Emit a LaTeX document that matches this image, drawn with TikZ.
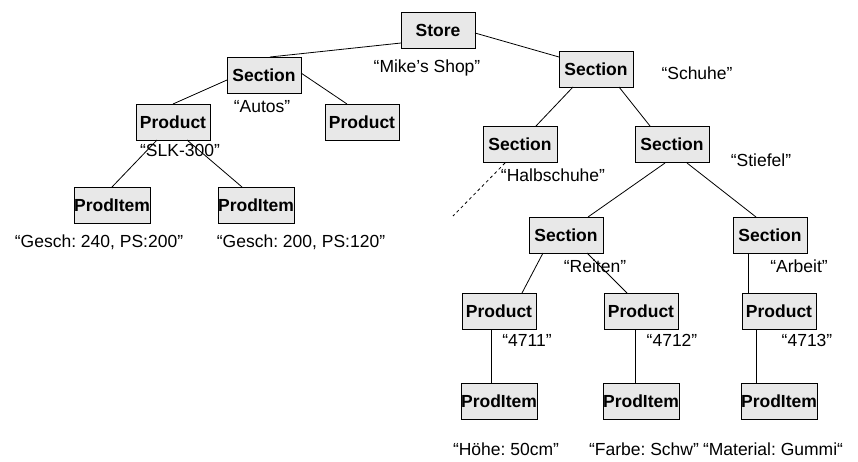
\documentclass[tikz,border=0pt]{standalone}
\usepackage{fontspec}
\setmainfont{Liberation Sans}
\frenchspacing
\begin{document}
\begin{tikzpicture}[x=1pt,y=-1pt,
  box/.style={draw=black, line width=0.8pt, fill=black!9, minimum width=74pt,
    minimum height=36pt, inner sep=0pt, font=\fontsize{17.5}{20}\selectfont\bfseries},
  lbl/.style={inner sep=0pt, font=\fontsize{17.5}{20}\selectfont},
  link/.style={draw=black, line width=0.8pt}]
\useasboundingbox (0,0) rectangle (858,461);

% object nodes
\node[box] (store) at (438,30.5) {Store};
\node[box] (secL)  at (264,75.5) {Section};
\node[box] (secR)  at (596,69)   {Section};
\node[box] (prodA) at (173,122)  {Product};
\node[box] (prodB) at (362,122)  {Product};
\node[box] (itemA) at (112,205)  {ProdItem};
\node[box] (itemB) at (256,205)  {ProdItem};
\node[box] (halb)  at (520,144.5){Section};
\node[box] (stief) at (672,144.5){Section};
\node[box] (reit)  at (566,235)  {Section};
\node[box] (arb)   at (770,235)  {Section};
\node[box] (pA)    at (499,311)  {Product};
\node[box] (pB)    at (641,311)  {Product};
\node[box] (pC)    at (779,311)  {Product};
\node[box] (iA)    at (499,401.5){ProdItem};
\node[box] (iB)    at (641,401.5){ProdItem};
\node[box] (iC)    at (779,401.5){ProdItem};

% attribute values
\node[lbl] (tShop)  at (427,68)  {“Mike’s Shop”};
\node[lbl] (tSchuh) at (697,73)  {“Schuhe”};
\node[lbl] (tAuto)  at (262,107) {“Autos”};
\node[lbl] (tSlk)   at (180,150) {“SLK-300”};
\node[lbl] (tG1)    at (99,242)  {“Gesch: 240, PS:200”};
\node[lbl] (tG2)    at (301,242) {“Gesch: 200, PS:120”};
\node[lbl] (tHalb)  at (553,175) {“Halbschuhe”};
\node[lbl] (tStief) at (761,160) {“Stiefel”};
\node[lbl] (tReit)  at (595,266) {“Reiten”};
\node[lbl] (tArb)   at (799,266) {“Arbeit”};
\node[lbl] (t4711)  at (527,340) {“4711”};
\node[lbl] (t4712)  at (672,340) {“4712”};
\node[lbl] (t4713)  at (807,340) {“4713”};
\node[lbl] (tHoehe) at (506,449) {“Höhe: 50cm”};
\node[lbl] (tFarbe) at (644,449) {“Farbe: Schw”};
\node[lbl] (tMat)   at (773,449) {“Material: Gummi“};

% free end of the dashed link
\coordinate (more) at (453,216);

% containment links
\draw[link] ([shift={(-37,12.5)}]store.center) -- ([shift={(6,-18.5)}]secL.center);
\draw[link] ([shift={(37,2.5)}]store.center) -- ([shift={(-37,-12)}]secR.center);
\draw[link] ([shift={(-37,4.5)}]secL.center) -- ([shift={(0,-18)}]prodA.center);
\draw[link] ([shift={(37,-2.5)}]secL.center) -- ([shift={(-15,-18)}]prodB.center);
\draw[link] ([shift={(-16,18)}]prodA.center) -- ([shift={(0,-18)}]itemA.center);
\draw[link] ([shift={(14,18)}]prodA.center) -- ([shift={(-14,-18)}]itemB.center);
\draw[link] ([shift={(-23,18)}]secR.center) -- ([shift={(16,-18.5)}]halb.center);
\draw[link] ([shift={(23,18)}]secR.center) -- ([shift={(-22,-18.5)}]stief.center);
\draw[link, dashed] ([shift={(-15,18.5)}]halb.center) -- (more);
\draw[link] ([shift={(-7,18.5)}]stief.center) -- ([shift={(22,-18)}]reit.center);
\draw[link] ([shift={(15,18.5)}]stief.center) -- ([shift={(-14,-18)}]arb.center);
\draw[link] ([shift={(-23,18)}]reit.center) -- ([shift={(23,-18)}]pA.center);
\draw[link] ([shift={(21,18)}]reit.center) -- ([shift={(-14,-18)}]pB.center);
\draw[link] ([shift={(-22,18)}]arb.center) -- ([shift={(-31,-18)}]pC.center);
\draw[link] ([shift={(-8,18)}]pA.center) -- ([shift={(-8,-18)}]iA.center);
\draw[link] ([shift={(-6,18)}]pB.center) -- ([shift={(-6,-18)}]iB.center);
\draw[link] ([shift={(-23,18)}]pC.center) -- ([shift={(-23,-18)}]iC.center);
\end{tikzpicture}
\end{document}
